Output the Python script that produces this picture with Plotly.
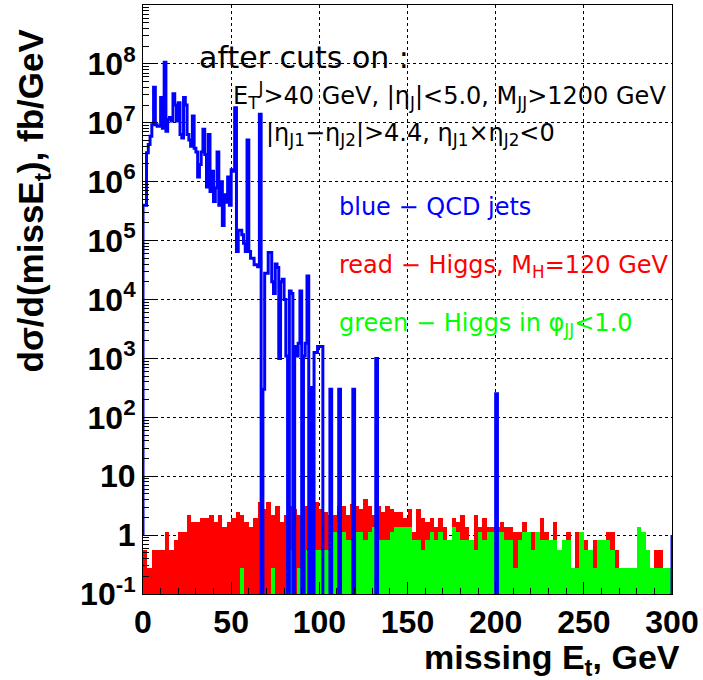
import plotly.graph_objects as go

# ---------------- data ----------------
HIGGS_BIN_WIDTH = 2.5   # GeV
QCD_BIN_WIDTH = 1.0     # GeV
X_MAX = 300.0

# red: Higgs, M_H = 120 GeV   (fb/GeV, 120 bins of 2.5 GeV)
higgs_all = [
    0.56, 0.28, 0.56, 0.56, 0.56, 1.11, 0.56, 0.84, 1.11, 1.11,
    2.23, 1.67, 1.67, 1.95, 1.95, 2.23, 1.67, 2.23, 1.39, 1.67,
    1.95, 2.51, 2.23, 1.67, 1.39, 1.95, 3.62, 2.79, 3.62, 2.23,
    3.06, 1.67, 2.23, 3.06, 2.79, 2.23, 3.06, 3.06, 3.06, 3.62,
    2.79, 2.51, 2.23, 2.23, 3.06, 3.06, 2.23, 3.34, 3.06, 2.79,
    4.18, 3.06, 2.23, 3.06, 2.51, 3.06, 2.79, 2.51, 2.51, 1.95,
    2.79, 1.11, 2.79, 1.95, 1.67, 1.95, 1.39, 1.95, 1.39, 0.84,
    1.95, 1.67, 2.23, 1.39, 0.84, 2.23, 1.39, 1.95, 1.39, 1.39,
    1.39, 1.67, 1.39, 1.39, 1.11, 1.11, 1.67, 1.11, 1.11, 1.11,
    1.95, 1.11, 0.84, 1.67, 0.56, 0.84, 1.11, 0.28, 1.11, 1.11,
    0.84, 0.56, 0.84, 0.84, 0.84, 1.11, 1.11, 0.56, 0.28, 0.28,
    0.28, 0.28, 1.39, 1.11, 0.56, 0.28, 0.56, 0.56, 0.28, 0.28,
]

# green: Higgs in phi_JJ < 1.0   (fb/GeV, 120 bins of 2.5 GeV)
higgs_phi = [
    0, 0, 0, 0, 0, 0, 0, 0, 0, 0,
    0, 0, 0, 0, 0, 0, 0, 0, 0, 0,
    0, 0, 0.28, 0, 0, 0, 0, 0, 0, 0.28,
    0, 0, 0, 0.56, 0, 0.28, 0, 0.56, 0.84, 0.56,
    0.56, 0.56, 0.56, 1.11, 1.67, 1.11, 0.84, 0.84, 1.11, 1.11,
    0.84, 1.11, 1.39, 0.84, 0.84, 0.84, 1.11, 1.39, 1.39, 1.39,
    1.39, 0.84, 0.84, 0.56, 0.84, 1.11, 0.84, 1.11, 0.84, 0.84,
    1.39, 1.11, 0.84, 0.84, 0.84, 0.56, 1.11, 0.84, 1.11, 1.11,
    1.11, 1.11, 0.84, 0.84, 0.28, 0.84, 1.11, 1.11, 0.56, 1.11,
    0.84, 0.84, 0.84, 0.84, 0.56, 0.84, 0.84, 0.28, 0.28, 1.11,
    0.56, 0.56, 0.28, 0.84, 0.84, 0.84, 0.56, 0.28, 0.28, 0.28,
    0.28, 0.28, 1.39, 1.11, 0.56, 0.28, 0.28, 0.28, 0.28, 0.28,
]

# blue: QCD jets   (fb/GeV, 300 bins of 1 GeV; 0 = empty bin)
qcd_jets = [
    4.0e5, 4.0e5, 3.1e6, 4.3e6, 5.9e6, 9.3e6, 4.0e7, 9.3e6, 8.7e6, 8.7e6,
    2.7e7, 8.1e6, 1.07e8, 7.2e6, 1.15e7, 1.23e7, 1.07e7, 3.1e7, 2.0e7, 1.07e7,
    2.2e7, 6.3e6, 5.5e6, 2.7e7, 2.0e7, 6.3e6, 5.1e6, 4.0e6, 1.3e7, 3.7e6,
    3.2e6, 1.2e6, 1.95e6, 3.2e6, 7.8e6, 2.9e6, 8.1e5, 6.3e6, 6.8e5, 1.5e6,
    4.6e5, 7.8e5, 3.2e6, 4.0e5, 1.0e6, 1.8e5, 6.0e5, 4.5e5, 1.2e6, 4.0e5,
    1.6e6, 1.5e6, 1.8e7, 6.5e4, 1.5e5, 1.5e5, 1.26e5, 9.0e4, 6.5e4, 5.1e6,
    6.5e4, 5.0e4, 5.0e4, 3.9e4, 3.9e4, 3.6e4, 1.4e7, 0, 300, 2.8e4,
    2.8e4, 6.3e4, 6.3e4, 2.0e4, 1.26e4, 4.0e4, 3.5e4, 1000, 2.0e4, 2.2e4,
    1.0e4, 1100, 0, 1.4e4, 1.26e4, 0, 1600, 1100, 1800, 1.4e4,
    0, 1100, 1800, 2.5e4, 0, 320, 0, 1260, 1260, 1600,
    1600, 1600, 0, 0, 0, 0, 300, 0, 0, 0,
    0, 300, 0, 0, 0, 0, 0, 0, 0, 300,
    0, 0, 0, 0, 0, 0, 0, 0, 0, 0,
    0, 0, 1000, 0, 0, 0, 0, 0, 0, 0,
    0, 0, 0, 0, 0, 0, 0, 0, 0, 0,
    0, 0, 0, 0, 0, 0, 0, 0, 0, 0,
    0, 0, 0, 0, 0, 0, 0, 0, 0, 0,
    0, 0, 0, 0, 0, 0, 0, 0, 0, 0,
    0, 0, 0, 0, 0, 0, 0, 0, 0, 0,
    0, 0, 0, 0, 0, 0, 0, 0, 0, 0,
    250, 0, 0, 0, 0, 0, 0, 0, 0, 0,
    0, 0, 0, 0, 0, 0, 0, 0, 0, 0,
    0, 0, 0, 0, 0, 0, 0, 0, 0, 0,
    0, 0, 0, 0, 0, 0, 0, 0, 0, 0,
    0, 0, 0, 0, 0, 0, 0, 0, 0, 0,
    0, 0, 0, 0, 0, 0, 0, 0, 0, 0,
    0, 0, 0, 0, 0, 0, 0, 0, 0, 0,
    0, 0, 0, 0, 0, 0, 0, 0, 0, 0,
    0, 0, 0, 0, 0, 0, 0, 0, 0, 0,
    0, 0, 0, 0, 0, 0, 0, 0, 0, 0,
]

x_tick_vals = [0, 50, 100, 150, 200, 250, 300]
x_tick_text = ["0", "50", "100", "150", "200", "250", "300"]
y_tick_vals = [1e-1, 1, 1e1, 1e2, 1e3, 1e4, 1e5, 1e6, 1e7, 1e8]
y_tick_text = ["10<sup>-1</sup>", "1", "10", "10<sup>2</sup>", "10<sup>3</sup>",
               "10<sup>4</sup>", "10<sup>5</sup>", "10<sup>6</sup>",
               "10<sup>7</sup>", "10<sup>8</sup>"]

# ---------------- figure ----------------
W, H = 703, 680
L, R, T, B = 143, 27, 4, 86
PW, PH = W - L - R, H - T - B


def px(xp):
    return (xp - L) / PW


def py(yp):
    return (H - B - yp) / PH


fig = go.Figure()

centers = [HIGGS_BIN_WIDTH * (i + 0.5) for i in range(len(higgs_all))]
fig.add_trace(go.Bar(
    x=centers, y=[v if v > 0 else None for v in higgs_all],
    width=HIGGS_BIN_WIDTH, marker=dict(color="#ff0000", line=dict(width=0)),
    hoverinfo="skip"))
fig.add_trace(go.Bar(
    x=centers, y=[v if v > 0 else None for v in higgs_phi],
    width=HIGGS_BIN_WIDTH, marker=dict(color="#00ff00", line=dict(width=0)),
    hoverinfo="skip"))

# QCD outline histogram (drawn like ROOT: from 1 up, steps, back to 1)
FLOOR = 1e-3
xs, ys = [0.0], [1.0]
for i, v in enumerate(qcd_jets):
    xs.append(i * QCD_BIN_WIDTH)
    ys.append(v if v > 0 else FLOOR)
xs += [X_MAX, X_MAX]
ys += [ys[-1], 1.0]
fig.add_trace(go.Scatter(x=xs, y=ys, mode="lines", line_shape="hv",
                         line=dict(color="#0000ff", width=3), hoverinfo="skip"))

tick_font = dict(family="Liberation Sans, Arial", size=32, color="black", weight="bold")
grid = dict(showgrid=True, gridcolor="black", gridwidth=1, griddash="dot")

fig.update_xaxes(range=[0, X_MAX], tickmode="array", tickvals=x_tick_vals, ticktext=x_tick_text,
                 ticks="inside", ticklen=12, tickwidth=1, tickcolor="black",
                 minor=dict(tickvals=list(range(0, 301, 10)), ticks="inside", ticklen=6,
                            tickcolor="black", showgrid=False),
                 showline=True, linecolor="black", linewidth=1, mirror=True,
                 tickfont=tick_font, zeroline=False, **grid)
fig.update_yaxes(type="log", range=[-1, 9], tickmode="array", tickvals=y_tick_vals,
                 ticktext=y_tick_text, ticks="inside", ticklen=12, tickwidth=1, tickcolor="black",
                 minor=dict(tickvals=[m * 10 ** e for e in range(-1, 9) for m in range(2, 10)],
                            ticks="inside", ticklen=6, tickcolor="black", showgrid=False),
                 showline=True, linecolor="black", linewidth=1, mirror=True,
                 tickfont=tick_font, zeroline=False, **grid)

ann_font = "DejaVu Sans"
annotations = [
    dict(text="after cuts on :", x=px(197), y=py(57), color="black", size=30),
    dict(text="E<sub>T</sub><sup>J</sup>&gt;40 GeV, |η<sub>J</sub>|&lt;5.0, M<sub>JJ</sub>&gt;1200 GeV",
         x=px(232), y=py(95), color="black", size=24),
    dict(text="|η<sub>J1</sub>−η<sub>J2</sub>|&gt;4.4, η<sub>J1</sub>×η<sub>J2</sub>&lt;0",
         x=px(265), y=py(134), color="black", size=24),
    dict(text="blue − QCD jets", x=px(338), y=py(206), color="#0000ff", size=24),
    dict(text="read − Higgs, M<sub>H</sub>=120 GeV", x=px(338), y=py(266), color="#ff0000", size=24),
    dict(text="green − Higgs in φ<sub>JJ</sub>&lt;1.0", x=px(338), y=py(324), color="#00ff00", size=24),
]
for a in annotations:
    fig.add_annotation(text=a["text"], x=a["x"], y=a["y"], xref="paper", yref="paper",
                       xanchor="left", yanchor="middle", showarrow=False,
                       font=dict(family=ann_font, size=a["size"], color=a["color"]))

fig.add_annotation(text="missing E<sub>t</sub>, GeV", x=px(686), y=py(660), xref="paper", yref="paper",
                   xanchor="right", yanchor="middle", showarrow=False,
                   font=dict(family="Liberation Sans, Arial", size=34, color="black", weight="bold"))
fig.add_annotation(text="dσ/d(missE<sub>t</sub>), fb/GeV", x=px(32), y=py(200), xref="paper", yref="paper",
                   xanchor="center", yanchor="middle", textangle=-90, showarrow=False,
                   font=dict(family="Liberation Sans, Arial", size=35, color="black", weight="bold"))

fig.update_layout(width=W, height=H, margin=dict(l=L, r=R, t=T, b=B),
                  plot_bgcolor="white", paper_bgcolor="white", showlegend=False,
                  barmode="overlay", bargap=0)

fig.write_html("out.html", config={"displayModeBar": False},
               post_script="document.body.style.margin='0px';")
